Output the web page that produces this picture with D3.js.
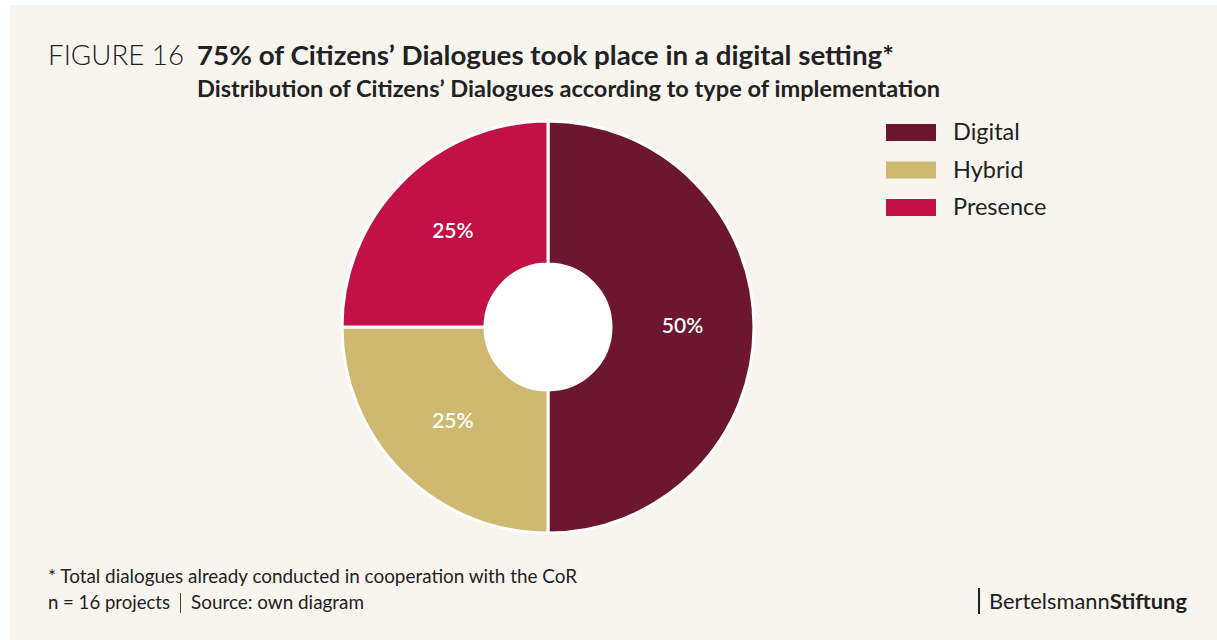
<!DOCTYPE html>
<html><head><meta charset="utf-8">
<script src="https://cdn.jsdelivr.net/npm/d3@7"></script>
<style>
html,body{margin:0;padding:0;background:#fff;}
svg{display:block;font-family:Lato,"Open Sans",sans-serif;}
</style></head>
<body>
<svg id="chart" width="1217" height="640"></svg>
<script>
const categories = ["Digital", "Hybrid", "Presence"];
const values = [50, 25, 25];
const valueLabels = ["50%", "25%", "25%"];
const colors = ["#6d1630", "#cfb870", "#c21245"];

const svg = d3.select("#chart");
svg.append("rect").attr("x", 10).attr("y", 5).attr("width", 1207).attr("height", 635).attr("fill", "#f8f5ef");

// Title
svg.append("text").attr("x", 48).attr("y", 65).attr("fill", "#222").style("font-size", "27.5px").style("font-weight", 300)
  .attr("textLength", 136).attr("lengthAdjust", "spacingAndGlyphs").text("FIGURE 16");
svg.append("text").attr("x", 197).attr("y", 65).attr("fill", "#222").style("font-size", "27.5px").style("font-weight", 700)
  .attr("textLength", 697).attr("lengthAdjust", "spacingAndGlyphs")
  .text("75% of Citizens’ Dialogues took place in a digital setting*");
svg.append("text").attr("x", 197).attr("y", 97).attr("fill", "#222").style("font-size", "22px").style("font-weight", 700)
  .attr("textLength", 743).attr("lengthAdjust", "spacingAndGlyphs")
  .text("Distribution of Citizens’ Dialogues according to type of implementation");

// Donut
const cx = 548, cy = 327, rOuter = 206, rInner = 63;
const data = categories.map((c, i) => ({cat: c, value: values[i], label: valueLabels[i], color: colors[i]}));
const pie = d3.pie().sort(null).value(d => d.value);
const arc = d3.arc().innerRadius(rInner).outerRadius(rOuter);
const g = svg.append("g").attr("transform", `translate(${cx},${cy})`);
const arcs = pie(data);
g.selectAll("path.slice").data(arcs).join("path").attr("class", "slice")
  .attr("d", arc).attr("fill", d => d.data.color).attr("stroke", "#ffffff").attr("stroke-width", 3);
g.append("circle").attr("r", rInner).attr("fill", "#ffffff");
g.selectAll("text.lbl").data(arcs).join("text").attr("class", "lbl")
  .attr("transform", d => { const c = arc.centroid(d); return `translate(${c[0]},${c[1]})`; })
  .attr("text-anchor", "middle").attr("dy", "0.3em")
  .attr("fill", "#ffffff").style("font-size", "21px").style("font-weight", 600)
  .text(d => d.data.label);

// Legend
const legend = svg.append("g").attr("transform", "translate(886,124)");
const li = legend.selectAll("g").data(data).join("g").attr("transform", (d, i) => `translate(0,${i * 37.5})`);
li.append("rect").attr("width", 50).attr("height", 17).attr("fill", d => d.color);
li.append("text").attr("x", 67).attr("y", 16).attr("fill", "#222").style("font-size", "23.5px").text(d => d.cat);

// Footer
svg.append("text").attr("x", 48).attr("y", 583).attr("fill", "#222").style("font-size", "18.5px")
  .attr("textLength", 529).attr("lengthAdjust", "spacingAndGlyphs")
  .text("* Total dialogues already conducted in cooperation with the CoR");
svg.append("text").attr("x", 48).attr("y", 609).attr("fill", "#222").style("font-size", "18.5px")
  .attr("textLength", 122).attr("lengthAdjust", "spacingAndGlyphs").text("n = 16 projects");
svg.append("text").attr("x", 191).attr("y", 609).attr("fill", "#222").style("font-size", "18.5px")
  .attr("textLength", 173).attr("lengthAdjust", "spacingAndGlyphs").text("Source: own diagram");
svg.append("line").attr("x1", 180.5).attr("x2", 180.5).attr("y1", 593).attr("y2", 613).attr("stroke", "#444").attr("stroke-width", 1);

svg.append("line").attr("x1", 979).attr("x2", 979).attr("y1", 588).attr("y2", 614).attr("stroke", "#222").attr("stroke-width", 2);
const b = svg.append("text").attr("x", 989).attr("y", 609).attr("fill", "#222").style("font-size", "20.5px")
  .attr("textLength", 198).attr("lengthAdjust", "spacingAndGlyphs");
b.append("tspan").text("Bertelsmann");
b.append("tspan").style("font-weight", 700).text("Stiftung");
</script>
</body></html>
